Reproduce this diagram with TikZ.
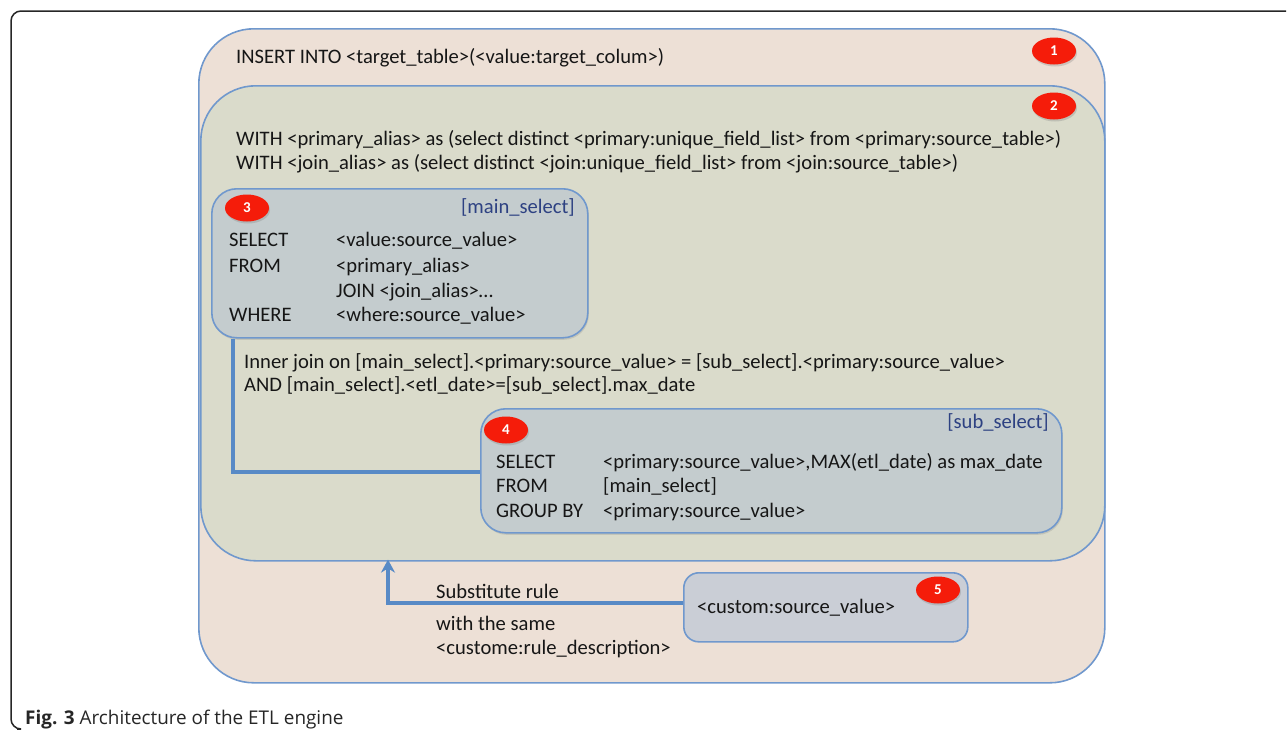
\documentclass[tikz,border=0pt]{standalone}
\usepackage{fontspec}
\setmainfont{Carlito}
\newfontfamily\capfont{Open Sans}
\usetikzlibrary{shadows,calc,arrows.meta,shapes.geometric}
\definecolor{bOne}{RGB}{237,224,214}
\definecolor{bTwo}{RGB}{218,219,203}
\definecolor{bSel}{RGB}{196,204,206}
\definecolor{bCust}{RGB}{202,206,214}
\definecolor{edgeblue}{RGB}{112,152,205}
\definecolor{linkblue}{RGB}{88,138,198}
\definecolor{badgered}{RGB}{245,28,10}
\definecolor{tagblue}{RGB}{45,65,130}
\definecolor{txtcol}{RGB}{22,22,22}
\tikzset{
  panel/.style={draw=edgeblue, line width=1.6pt, rectangle, inner sep=0pt, anchor=north west},
  selbox/.style={panel, fill=bSel, rounded corners=25pt, drop shadow={opacity=0.25, shadow xshift=1pt, shadow yshift=-2pt}},
  badge/.style={ellipse, fill=badgered, inner sep=0pt, minimum width=44pt, minimum height=27pt,
     text=white, font=\bfseries\fontsize{15}{15}\selectfont,
     drop shadow={opacity=0.3, shadow xshift=1pt, shadow yshift=-2pt}},
  txt/.style={anchor=base west, inner sep=0pt, text=txtcol, font=\fontsize{20.6}{20.6}\selectfont},
  tag/.style={anchor=base east, inner sep=0pt, text=tagblue, font=\fontsize{20.6}{20.6}\selectfont},
  link/.style={draw=linkblue, line width=3.4pt},
}
\begin{document}
\begin{tikzpicture}[x=1pt,y=-1pt]
\useasboundingbox (0,0) rectangle (1287,729);
% outer frame
\draw[line width=1.5pt, black!85, rounded corners=10pt] (1286,11) -- (11,11) -- (11,729) -- (17,729);
% box 1
\node[panel, fill=bOne, rounded corners=55pt, minimum width=906pt, minimum height=654pt] (b1) at (198,28) {};
% box 2
\node[panel, fill=bTwo, rounded corners=55pt, minimum width=904pt, minimum height=475pt] (b2) at (200,85) {};
% box 3
\node[selbox, minimum width=376pt, minimum height=149pt] (b3) at (211,188) {};
% box 4
\node[selbox, minimum width=581pt, minimum height=124pt] (b4) at (480,408) {};
% box 5
\node[panel, fill=bCust, rounded corners=15pt, minimum width=284pt, minimum height=69pt] (b5) at (683,572) {};

% connectors
\coordinate (j) at (233,472);
\draw[link] (j |- b3.south) -- (j) -- (j -| b4.west);
\coordinate (k) at (388,603);
\draw[link, -{Stealth[length=13pt,width=14pt]}] (b5.west |- k) -- (k) -- ($(k |- b2.south)+(0,-2)$);

% badges
\node[badge] (n1) at (1054,51) {1};
\node[badge] (n2) at (1054,106) {2};
\node[badge] (n3) at (247,208) {3};
\node[badge] (n4) at (506,430) {4};
\node[badge] (n5) at (938,590) {5};

% texts
\node[txt] (t1) at (236,63) {INSERT INTO <target\_table>(<value:target\_colum>)};
\node[txt] (t2) at (236,145) {WITH <primary\_alias> as (select distinct <primary:unique\_field\_list> from <primary:source\_table>)};
\node[txt] (t3) at (236,169) {WITH <join\_alias> as (select distinct <join:unique\_field\_list> from <join:source\_table>)};

\node[tag] (m3) at (575,213) {[main\_select]};
\node[txt] (s1) at (229,246) {SELECT};
\node[txt] (s2) at (229,272) {FROM};
\node[txt] (s4) at (229,321) {WHERE};
\node[txt] (v1) at (336,246) {<value:source\_value>};
\node[txt] (v2) at (336,272) {<primary\_alias>};
\node[txt] (v3) at (336,297) {JOIN <join\_alias>…};
\node[txt] (v4) at (336,321) {<where:source\_value>};

\node[txt] (i1) at (244,368) {Inner join on [main\_select].<primary:source\_value> = [sub\_select].<primary:source\_value>};
\node[txt] (i2) at (244,391) {AND [main\_select].<etl\_date>=[sub\_select].max\_date};

\node[tag] (m4) at (1049,428) {[sub\_select]};
\node[txt] (u1) at (496,468) {SELECT};
\node[txt] (u2) at (496,492) {FROM};
\node[txt] (u3) at (496,517) {GROUP BY};
\node[txt] (w1) at (603,468) {<primary:source\_value>,MAX(etl\_date) as max\_date};
\node[txt] (w2) at (603,492) {[main\_select]};
\node[txt] (w3) at (603,517) {<primary:source\_value>};

\node[txt] (r1) at (436,598) {Substitute rule};
\node[txt] (r2) at (436,630) {with the same};
\node[txt] (r3) at (436,654) {<custome:rule\_description>};
\node[txt] (c5) at (697,613) {<custom:source\_value>};

\node[anchor=base west, inner sep=0pt, text=black!85, font=\capfont\fontsize{18.9}{19}\selectfont] (cap) at (25,724) {\textbf{Fig. 3} Architecture of the ETL engine};
\end{tikzpicture}
\end{document}
